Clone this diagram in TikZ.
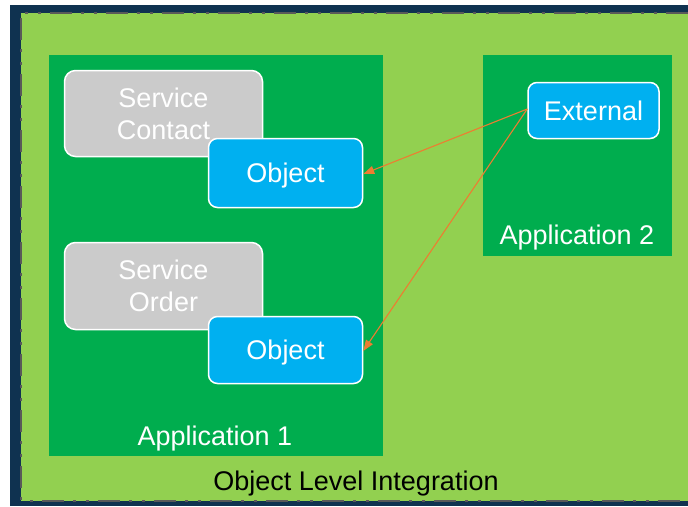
\documentclass[tikz,border=0pt]{standalone}
\usepackage{fontspec}
\setmainfont{Liberation Sans}
\usetikzlibrary{arrows.meta}
\definecolor{navy}{HTML}{0F3250}
\definecolor{lightgreen}{HTML}{92D050}
\definecolor{appgreen}{HTML}{00AD4E}
\definecolor{objblue}{HTML}{00B0F0}
\definecolor{svcgray}{HTML}{CBCBCB}
\definecolor{linkorange}{HTML}{ED7D31}
\definecolor{edgegray}{HTML}{595959}
\tikzset{
  txt/.style={font=\fontsize{27}{32}\selectfont},
  capline/.style={txt, text height=19.3pt, text depth=0pt},
  appbox/.style={fill=appgreen, draw=none, inner sep=0pt},
  svcbox/.style={fill=svcgray, draw=white, line width=1.5pt, rounded corners=11pt,
    inner sep=0pt, text=white, align=center, txt},
  objbox/.style={fill=objblue, draw=white, line width=1.5pt, rounded corners=9pt,
    inner sep=0pt, text=white, capline},
  link/.style={draw=linkorange, line width=1.1pt, -{Triangle[length=11pt,width=8pt]}},
  dashedge/.style={draw=edgegray, line width=2.4pt,
    dash pattern=on 22pt off 9pt on 3pt off 10pt on 3pt off 9pt}
}
\begin{document}
\begin{tikzpicture}[x=1pt,y=-1pt]
\useasboundingbox (0,0) rectangle (688,506);
% frame and integration area
\fill[navy] (10,5) rectangle (688,506);
\fill[lightgreen] (21,13) rectangle (688,501);
\draw[dashedge] (688,13) -- (21,13) -- (21,501) -- (688,501);
\node[capline] (olitxt) at (356,481) {Object Level Integration};
% applications
\node[appbox, minimum width=334pt, minimum height=401pt] (app1) at (216,255.5) {};
\node[appbox, minimum width=189pt, minimum height=201pt] (app2) at (577.5,155.5) {};
\node[capline, text=white] (app1txt) at (215,436) {Application 1};
\node[capline, text=white] (app2txt) at (577,235) {Application 2};
% business objects
\node[svcbox, minimum width=198pt, minimum height=86pt] (svccontact) at (163.5,113.5) {Service\\Contact};
\node[objbox, minimum width=154pt, minimum height=69pt] (obj1) at (285.5,173) {Object};
\node[svcbox, minimum width=198pt, minimum height=87pt] (svcorder) at (163.5,286) {Service\\Order};
\node[objbox, minimum width=154pt, minimum height=67pt] (obj2) at (285.5,350) {Object};
\node[objbox, minimum width=131pt, minimum height=56pt] (ext) at (593.5,110.5) {External};
% links
\draw[link] ([yshift=1.5pt]ext.west) -- ([yshift=-1pt]obj1.east);
\draw[link] ([yshift=1.5pt]ext.west) -- ([yshift=-1pt]obj2.east);
\end{tikzpicture}
\end{document}
